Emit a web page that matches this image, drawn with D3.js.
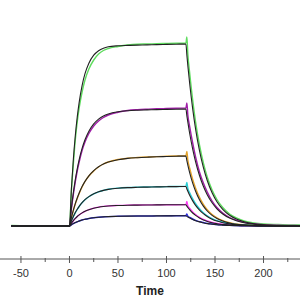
<!DOCTYPE html>
<html>
<head>
<meta charset="utf-8">
<script src="https://cdnjs.cloudflare.com/ajax/libs/d3/7.8.5/d3.min.js"></script>
<style>
  body { margin: 0; background: #fff; }
  svg { display: block; font-family: "Liberation Sans", Arial, sans-serif; }
</style>
</head>
<body>
<script>
// time grid (s), shared by measured curves and fits
var times = [-60, -30, 0, 2, 4, 6, 8, 10, 13, 16, 20, 25, 30, 35, 40, 50, 60, 70, 80, 90, 100, 110, 120,
  121, 122, 124, 127, 130, 134, 138, 142, 147, 152, 158, 165, 172, 180, 190, 200, 215, 230, 240];

// measured responses, one array per concentration
var data1 = [0.5, -0.3, 0, 35, 62, 86, 104, 118, 134, 146, 157, 166, 172, 175.5, 177.5, 179.5, 181, 181.8, 182, 182.3, 182.5, 182.7, 183,
  189, 172, 152, 126, 104, 81, 63, 49, 36, 26.5, 18.5, 12, 8, 5, 3, 2, 1.5, 1, 1];
var data2 = [0.3, 0, 0, 17, 31.5, 44, 55, 64, 75.5, 84, 92.5, 100, 105, 108.5, 111, 113.8, 115.5, 116.3, 116.8, 117.2, 117.5, 117.8, 118,
  123, 111, 99, 83, 69, 54, 43, 34, 25, 18.5, 13, 8.5, 5.8, 3.6, 2.2, 1.4, 0.8, 0.5, 0.4];
var data3 = [0, 0.2, 0, 8, 15.5, 22, 27.5, 32.5, 39, 44.5, 50, 55, 59, 62, 64, 66.5, 67.8, 68.5, 69, 69.4, 69.7, 70, 70.3,
  74.5, 66, 57.5, 46.5, 37.8, 28.6, 21.6, 16.3, 11.5, 8.2, 5.4, 3.4, 2.1, 1.3, 0.8, 0.5, 0.3, 0.2, 0.1];
var data4 = [0, 0, 0, 5, 9.3, 13.2, 16.5, 19.5, 23.2, 26.2, 29.3, 32.1, 34.2, 35.6, 36.7, 37.9, 38.5, 38.8, 39, 39.2, 39.4, 39.5, 39.7,
  43.5, 37.5, 33, 27.2, 22.3, 17.2, 13.3, 10.3, 7.4, 5.4, 3.7, 2.4, 1.5, 1, 0.6, 0.4, 0.2, 0.1, 0.1];
var data5 = [0, 0, 0, 2.8, 5.3, 7.5, 9.4, 11, 13, 14.7, 16.4, 17.9, 18.9, 19.6, 20.1, 20.6, 20.9, 21, 21.1, 21.2, 21.3, 21.3, 21.4,
  24.5, 20.2, 17.5, 14.1, 11.5, 8.7, 6.5, 5.0, 3.5, 2.5, 1.7, 1.0, 0.7, 0.4, 0.3, 0.2, 0.1, 0, 0];
var data6 = [0, 0, 0, 1.2, 2.3, 3.3, 4.2, 5, 6, 6.7, 7.5, 8.3, 8.8, 9.1, 9.4, 9.7, 9.9, 10, 10, 10.1, 10.2, 10.2, 10.3,
  12, 9.8, 8.6, 7, 5.7, 4.4, 3.5, 2.6, 2.0, 1.4, 1.0, 0.6, 0.4, 0.2, 0.1, 0, 0, 0, 0];

// fitted curves (black)
var fit1 = [0, 0, 0, 37.2, 66.7, 90.2, 108.9, 123.7, 140.4, 152.3, 162.8, 170.8, 175.3, 177.8, 179.2, 180.2, 180.6, 180.9, 181.1, 181.4, 181.6, 181.8, 182,
  170.9, 160.4, 141.5, 117.1, 96.9, 75.3, 58.6, 45.5, 33.2, 24.2, 16.6, 10.7, 6.9, 4.2, 2.2, 1.2, 0.5, 0.2, 0.1];
var fit2 = [0, 0, 0, 18.1, 33.4, 46.3, 57.2, 66.4, 77.6, 86.2, 94.8, 102.1, 106.9, 110.1, 112.1, 114.3, 115.3, 115.8, 116.1, 116.4, 116.6, 116.8, 117,
  110.2, 103.8, 92.0, 76.9, 64.2, 50.5, 39.7, 31.3, 23.2, 17.2, 12.0, 7.9, 5.2, 3.2, 1.8, 1.0, 0.4, 0.2, 0.1];
var fit3 = [0, 0, 0, 8.4, 15.8, 22.3, 28.0, 33.0, 39.4, 44.6, 50.2, 55.4, 59.2, 61.9, 63.9, 66.3, 67.6, 68.3, 68.8, 69.2, 69.5, 69.8, 70,
  65.3, 60.9, 52.9, 42.9, 34.8, 26.3, 19.9, 15.0, 10.6, 7.5, 4.9, 3.0, 1.8, 1.1, 0.5, 0.3, 0.1, 0.1, 0];
var fit4 = [0, 0, 0, 5.1, 9.5, 13.4, 16.7, 19.6, 23.3, 26.3, 29.4, 32.2, 34.2, 35.6, 36.6, 37.8, 38.4, 38.7, 38.9, 39.1, 39.3, 39.4, 39.5,
  37.0, 34.7, 30.5, 25.1, 20.6, 15.9, 12.3, 9.5, 6.8, 4.9, 3.3, 2.1, 1.3, 0.8, 0.4, 0.2, 0.1, 0, 0];
var fit5 = [0, 0, 0, 2.9, 5.4, 7.6, 9.5, 11.1, 13.1, 14.7, 16.3, 17.8, 18.8, 19.5, 20.0, 20.5, 20.8, 20.9, 21.0, 21.1, 21.2, 21.2, 21.3,
  19.9, 18.5, 16.1, 13.0, 10.6, 8.0, 6.0, 4.6, 3.2, 2.3, 1.5, 0.9, 0.6, 0.3, 0.2, 0.1, 0, 0, 0];
var fit6 = [0, 0, 0, 1.3, 2.4, 3.4, 4.3, 5.0, 6.0, 6.7, 7.5, 8.3, 8.8, 9.1, 9.4, 9.7, 9.9, 10.0, 10.0, 10.1, 10.1, 10.2, 10.2,
  9.6, 9.0, 7.9, 6.5, 5.3, 4.1, 3.2, 2.4, 1.8, 1.3, 0.9, 0.5, 0.3, 0.2, 0.1, 0, 0, 0, 0];

var colors = ["#5fdc5f", "#a01ea8", "#e3a32c", "#2ccfd6", "#ff3cf5", "#2a2ae0"];
var xTicks = [-50, 0, 50, 100, 150, 200];
var xMinor = [-25, 25, 75, 125, 175, 225];

var series = [data1, data2, data3, data4, data5, data6];
var fits = [fit1, fit2, fit3, fit4, fit5, fit6];

var width = 300, height = 300;

var svg = d3.select("body").append("svg")
  .attr("width", width)
  .attr("height", height);

var x = d3.scaleLinear().domain([-71.6, 237.6]).range([0, 300]);
var y = d3.scaleLinear().domain([0, 200]).range([226, 26]);

var line = d3.line()
  .x(function (d, i) { return x(times[i]); })
  .y(function (d) { return y(d); })
  .curve(d3.curveMonotoneX);

// measured traces
svg.append("g")
  .selectAll("path")
  .data(series)
  .enter().append("path")
  .attr("d", line)
  .attr("fill", "none")
  .attr("stroke", function (d, i) { return colors[i]; })
  .attr("stroke-width", 1.4);

// fits on top
svg.append("g")
  .selectAll("path")
  .data(fits)
  .enter().append("path")
  .attr("d", line)
  .attr("fill", "none")
  .attr("stroke", "#222")
  .attr("stroke-width", 1.1);

// x axis
var axisY = 259;
var ax = svg.append("g").attr("transform", "translate(0," + axisY + ")");
ax.append("line")
  .attr("x1", 0).attr("x2", width)
  .attr("stroke", "#555").attr("stroke-width", 1);

ax.selectAll(".major")
  .data(xTicks)
  .enter().append("line")
  .attr("x1", function (d) { return x(d); })
  .attr("x2", function (d) { return x(d); })
  .attr("y1", -3).attr("y2", 4)
  .attr("stroke", "#555");

ax.selectAll(".minor")
  .data(xMinor)
  .enter().append("line")
  .attr("x1", function (d) { return x(d); })
  .attr("x2", function (d) { return x(d); })
  .attr("y1", -1).attr("y2", 3)
  .attr("stroke", "#555");

ax.selectAll("text")
  .data(xTicks)
  .enter().append("text")
  .attr("x", function (d) { return x(d); })
  .attr("y", 18)
  .attr("text-anchor", "middle")
  .attr("font-size", 11)
  .attr("fill", "#333")
  .text(function (d) { return d; });

svg.append("text")
  .attr("x", 150)
  .attr("y", 295)
  .attr("text-anchor", "middle")
  .attr("font-size", 12)
  .attr("font-weight", "bold")
  .attr("fill", "#222")
  .text("Time");
</script>
</body>
</html>
